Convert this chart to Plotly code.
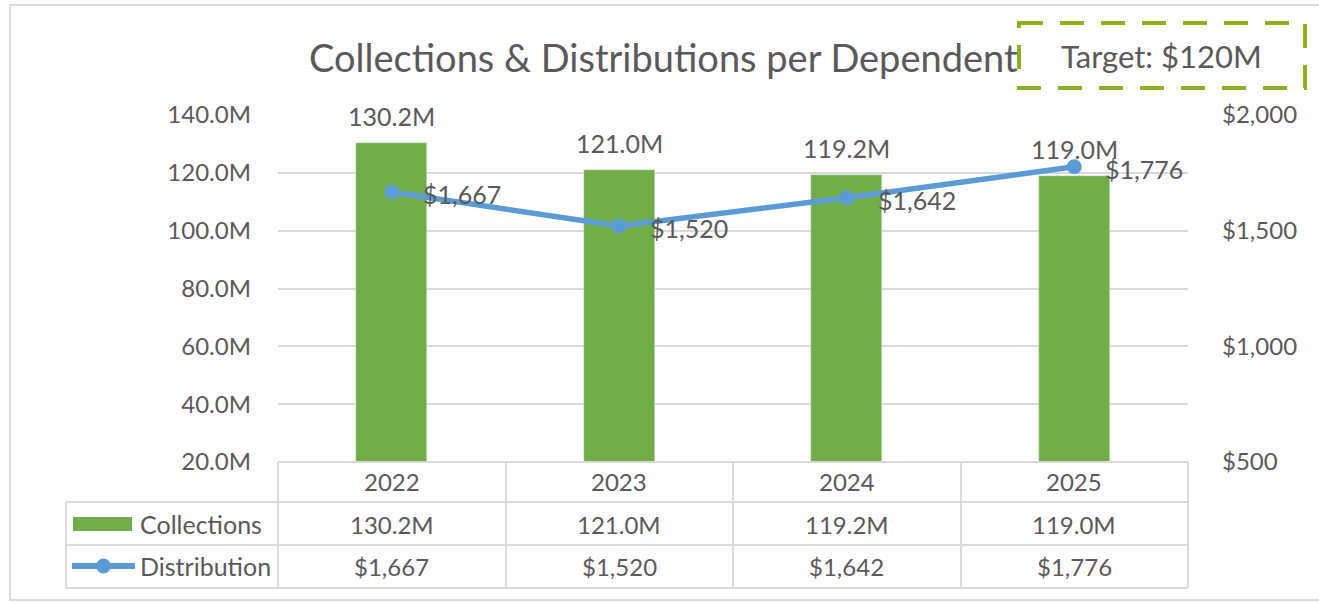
import plotly.graph_objects as go

years = ["2022", "2023", "2024", "2025"]
collections = [130.2, 121.0, 119.2, 119.0]   # millions
distribution = [1667, 1520, 1642, 1776]      # dollars per dependent
series_names = ["Collections", "Distribution"]
title_text = "Collections & Distributions per Dependent"
target_text = "Target: $120M"

W, H = 1319, 602
PL, PR, PT, PB = 278, 1188, 115, 462  # plot area in pixels

def px(x):
    return (x - PL) / (PR - PL)

def py(y):
    return (PB - y) / (PB - PT)

GREEN = "#70AD47"
BLUE = "#5B9BD5"
TXT = "#595959"
GRID = "#D9D9D9"
FONT = "Lato"
FS = 24

fig = go.Figure()
fig.add_trace(go.Bar(x=years, y=collections, name=series_names[0],
                     marker_color=GREEN, width=0.31, base=0,
                     hoverinfo="skip"))
fig.add_trace(go.Scatter(x=years, y=distribution, name=series_names[1],
                         yaxis="y2", mode="lines+markers",
                         line=dict(color=BLUE, width=5.5),
                         marker=dict(color=BLUE, size=15),
                         hoverinfo="skip"))

ann = []
# bar labels (category index used as x position)
for i, v in enumerate(collections):
    ann.append(dict(x=i, y=v, xref="x", yref="y", text=f"{v:.1f}M",
                    showarrow=False, yshift=27, xanchor="center", yanchor="middle",
                    font=dict(size=FS + 1, color=TXT)))
# line labels
for i, v in enumerate(distribution):
    ann.append(dict(x=i, y=v, xref="x", yref="y2", text=f"${v:,}",
                    showarrow=False, xanchor="left", yanchor="middle",
                    xshift=29, yshift=-2, font=dict(size=FS + 1, color=TXT)))

# table text
row_year_y = py(482)
row_col_y = py(524)
row_dist_y = py(566)
for i, yr in enumerate(years):
    for yy, txt in [(row_year_y, yr),
                    (row_col_y, f"{collections[i]:.1f}M"),
                    (row_dist_y, f"${distribution[i]:,}")]:
        ann.append(dict(x=i, y=yy, xref="x", yref="paper", text=txt,
                        showarrow=False, xanchor="center", yanchor="middle",
                        font=dict(size=FS, color=TXT)))
for yy, name in [(row_col_y, series_names[0]), (row_dist_y, series_names[1])]:
    ann.append(dict(x=px(138), y=yy, xref="paper", yref="paper",
                    text=name, showarrow=False, xanchor="left", yanchor="middle",
                    font=dict(size=FS + 1, color=TXT)))
# title
ann.append(dict(x=px(663), y=py(57), xref="paper", yref="paper",
                text=title_text, showarrow=False, xanchor="center", yanchor="middle",
                font=dict(size=38, color=TXT)))
# target box text
ann.append(dict(x=px(1161), y=py(56), xref="paper", yref="paper",
                text=target_text, showarrow=False, xanchor="center", yanchor="middle",
                font=dict(size=31, color=TXT)))

shapes = []
def line(x0, y0, x1, y1, color=GRID, width=2, dash="solid"):
    shapes.append(dict(type="line", xref="paper", yref="paper",
                       x0=px(x0), y0=py(y0), x1=px(x1), y1=py(y1),
                       line=dict(color=color, width=width, dash=dash)))

# outer chart border (right side runs off the picture)
shapes.append(dict(type="rect", xref="paper", yref="paper",
                   x0=px(10), y0=py(5), x1=px(1330), y1=py(600),
                   line=dict(color=GRID, width=2), layer="below"))
# table grid
line(PL, 462, PR, 462)
line(66, 502, PR, 502)
line(66, 545, PR, 545)
line(66, 588, PR, 588)
line(66, 502, 66, 588)
for xv in [PL, 506, 733, 961, PR]:
    line(xv, 462, xv, 588)
# legend keys in table
shapes.append(dict(type="rect", xref="paper", yref="paper",
                   x0=px(73), y0=py(517), x1=px(132), y1=py(531),
                   fillcolor=GREEN, line=dict(width=0)))
line(72, 566, 135, 566, color=BLUE, width=6)
shapes.append(dict(type="circle", xref="paper", yref="paper",
                   x0=px(96), y0=py(558.5), x1=px(111), y1=py(573.5),
                   fillcolor=BLUE, line=dict(width=0)))
# target dashed box
shapes.append(dict(type="rect", xref="paper", yref="paper",
                   x0=px(1019), y0=py(23), x1=px(1305), y1=py(88),
                   line=dict(color="#8DB01F", width=4, dash="24px,17px")))

fig.update_layout(
    width=W, height=H,
    margin=dict(l=PL, r=W - PR, t=PT, b=H - PB),
    paper_bgcolor="white", plot_bgcolor="white",
    font=dict(family=FONT, color=TXT),
    showlegend=False,
    bargap=0,
    xaxis=dict(type="category", showticklabels=False, showgrid=False,
               zeroline=False, showline=False, range=[-0.5, 3.5]),
    yaxis=dict(range=[20, 140], dtick=20, tick0=20, ticksuffix="M",
               tickformat=".1f", gridcolor=GRID, gridwidth=2,
               zeroline=False, showline=False,
               tickfont=dict(size=FS, color=TXT), ticklabelstandoff=26),
    yaxis2=dict(range=[500, 2000], dtick=500, tick0=500, overlaying="y",
                side="right", tickprefix="$", tickformat=",",
                showgrid=False, zeroline=False, showline=False,
                tickfont=dict(size=FS, color=TXT), ticklabelstandoff=33),
    annotations=ann, shapes=shapes,
)

fig.write_html("out.html", config={"displayModeBar": False},
               post_script="document.body.style.margin='0';document.body.style.overflow='hidden';")
